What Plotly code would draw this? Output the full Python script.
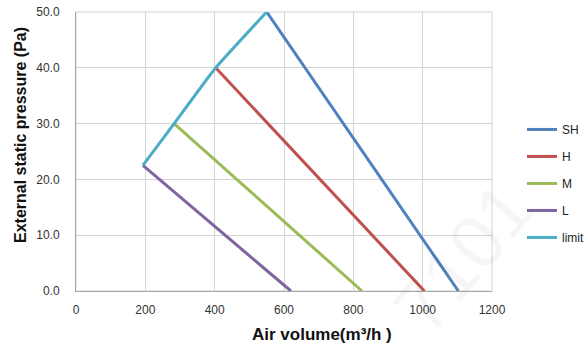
import plotly.graph_objects as go

# Data
sh_x = [550, 1103]
sh_y = [50.0, 0.0]
h_x = [403, 1005]
h_y = [40.0, 0.0]
m_x = [283, 825]
m_y = [30.0, 0.0]
l_x = [193, 620]
l_y = [22.5, 0.0]
limit_x = [193, 283, 403, 550]
limit_y = [22.5, 30.0, 40.0, 50.0]

x_ticks = [0, 200, 400, 600, 800, 1000, 1200]
y_ticks = [0, 10, 20, 30, 40, 50]

series = [
    ("SH", sh_x, sh_y, "#4F81BD"),
    ("H", h_x, h_y, "#C0504D"),
    ("M", m_x, m_y, "#9BBB59"),
    ("L", l_x, l_y, "#8064A2"),
    ("limit", limit_x, limit_y, "#4BACC6"),
]

fig = go.Figure()
for name, xs, ys, col in series:
    fig.add_trace(go.Scatter(
        x=xs, y=ys, mode="lines", name=name,
        line=dict(color=col, width=3,
                  shape="spline" if name == "limit" else "linear",
                  smoothing=0.4),
        legendgroup=name,
    ))

font_family = "Liberation Sans, Arial, sans-serif"
L, R, T, B = 76, 94, 12, 57
PW, PH = 586 - L - R, 348 - T - B

fig.update_layout(
    width=586, height=348,
    margin=dict(l=L, r=R, t=T, b=B, autoexpand=False),
    paper_bgcolor="white", plot_bgcolor="white",
    font=dict(family=font_family, size=12, color="#333333"),
    showlegend=True,
    legend=dict(x=(522 - L) / PW, y=0.631, xanchor="left", yanchor="top",
                traceorder="grouped", tracegroupgap=8,
                font=dict(size=12, color="#222222"),
                bgcolor="rgba(0,0,0,0)", itemwidth=30),
    xaxis=dict(range=[0, 1200], tickvals=x_ticks,
               ticktext=[str(v) for v in x_ticks],
               showgrid=True, gridcolor="#D4D4D4", gridwidth=1,
               showline=True, linecolor="#A6A6A6", mirror=False,
               zeroline=False, ticks="outside", ticklen=8, tickcolor="rgba(0,0,0,0)",
               automargin=False),
    yaxis=dict(range=[0, 50], tickvals=y_ticks,
               ticktext=[f"{v:.1f}" for v in y_ticks],
               showgrid=True, gridcolor="#D4D4D4", gridwidth=1,
               showline=True, linecolor="#A6A6A6",
               zeroline=False, ticks="outside", ticklen=13, tickcolor="rgba(0,0,0,0)",
               automargin=False),
)
# top and right border as gridline-colored lines
fig.add_shape(type="rect", xref="paper", yref="paper", x0=0, y0=0, x1=1, y1=1,
              line=dict(color="#D4D4D4", width=1), layer="below")

# axis titles placed where the reference shows them
fig.add_annotation(text="<b>Air volume(m³/h )</b>", xref="paper", yref="paper",
                   x=(322 - L) / PW, y=-(334 - (T + PH)) / PH,
                   xanchor="center", yanchor="middle", showarrow=False,
                   font=dict(size=17, color="#111111", family=font_family))
fig.add_annotation(text="<b>External static pressure (Pa)</b>", xref="paper", yref="paper",
                   x=(20 - L) / PW, y=(T + PH - 135) / PH,
                   xanchor="center", yanchor="middle", showarrow=False, textangle=-90,
                   font=dict(size=16, color="#111111", family=font_family))

fig.add_annotation(text="7101", xref="paper", yref="paper",
                   x=(463 - L) / PW, y=(T + PH - 258) / PH,
                   xanchor="center", yanchor="middle", showarrow=False,
                   textangle=-50, font=dict(size=75, color="rgba(0,0,0,0.035)",
                                            family=font_family))

# remove the default 8px page margin so the figure sits at the window's corner
fig.write_html("out.html", config={"displayModeBar": False},
               post_script="document.body.style.margin='0';document.body.style.padding='0';")
